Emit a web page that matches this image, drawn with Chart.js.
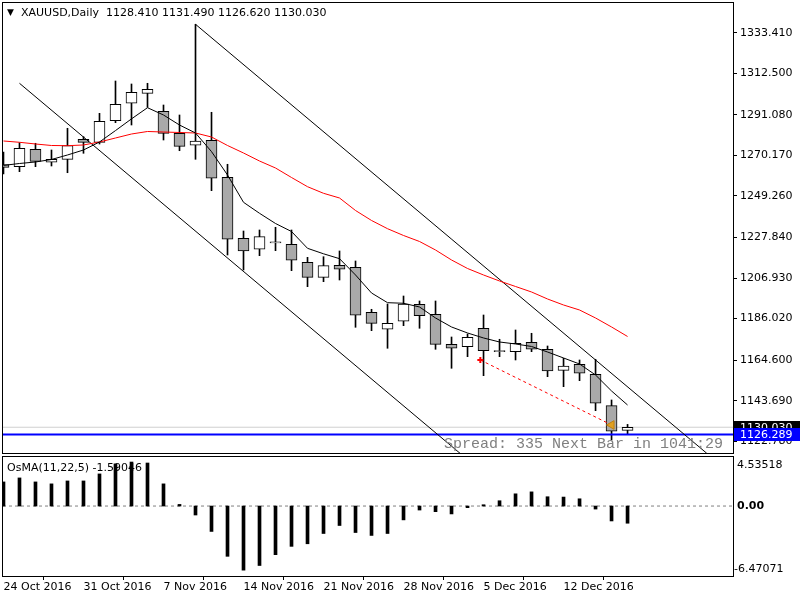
<!DOCTYPE html>
<html>
<head>
<meta charset="utf-8">
<title>XAUUSD Daily</title>
<script src="https://cdn.jsdelivr.net/npm/chart.js@4.4.1/dist/chart.umd.min.js"></script>
<style>
  html, body { margin: 0; padding: 0; background: #fff; }
  #wrap { position: relative; width: 800px; height: 600px; overflow: hidden; font-family: 'DejaVu Sans', sans-serif; }
  canvas { position: absolute; left: 0; }
  #priceChart { top: 0; }
  #oscChart { top: 454px; }
  .lbl { position: absolute; font-size: 11px; line-height: 13px; color: #000; white-space: pre; }
  #tri { left: 7px; top: 6px; font-size: 9px; }
  #title { left: 21px; top: 6px; }
  #oscTitle { left: 7px; top: 461px; }
  #spread { position: absolute; left: 444px; top: 436px; font: 15px 'Liberation Mono', monospace; line-height: 17px; color: #808080; white-space: pre; }
</style>
</head>
<body>
<div id="wrap">
  <canvas id="priceChart" width="800" height="454"></canvas>
  <canvas id="oscChart" width="800" height="146"></canvas>
  <div class="lbl" id="tri">▼</div>
  <div class="lbl" id="title">XAUUSD,Daily  1128.410 1131.490 1126.620 1130.030</div>
  <div class="lbl" id="oscTitle">OsMA(11,22,5) -1.59046</div>
  <div id="spread">Spread: 335 Next Bar in 1041:29</div>
</div>
<script>
// daily bars, 24 Oct 2016 .. 16 Dec 2016 (weekdays only)
const opens  = [1265.47, 1264.34, 1273.31, 1266.61, 1268.15, 1278.46, 1276.91, 1288.05, 1297.02, 1302.17,
                1292.90, 1281.55, 1275.37, 1277.95, 1258.87, 1227.43, 1221.76, 1225.60, 1224.33, 1215.06,
                1207.32, 1213.51, 1212.48, 1189.28, 1180.52, 1184.65, 1193.41, 1188.25, 1172.78, 1171.55,
                1181.04, 1169.60, 1168.97, 1173.82, 1170.21, 1159.38, 1162.48, 1157.33, 1141.15, 1128.41];
const highs  = [1271.92, 1276.71, 1276.40, 1272.95, 1284.13, 1279.80, 1291.86, 1308.51, 1306.97, 1307.33,
                1296.14, 1290.99, 1337.74, 1292.38, 1265.58, 1231.19, 1231.71, 1233.10, 1231.71, 1217.63,
                1217.94, 1220.89, 1215.73, 1190.83, 1193.56, 1197.68, 1195.11, 1195.11, 1176.55, 1178.10,
                1187.89, 1175.37, 1180.16, 1178.46, 1171.91, 1165.57, 1164.70, 1165.06, 1144.08, 1131.49];
const lows   = [1260.58, 1261.76, 1264.34, 1264.70, 1261.24, 1271.24, 1276.04, 1287.02, 1285.83, 1294.95,
                1278.10, 1272.58, 1268.15, 1251.97, 1218.82, 1211.09, 1218.46, 1221.04, 1210.73, 1202.48,
                1205.06, 1205.93, 1181.55, 1179.80, 1170.73, 1182.38, 1181.04, 1170.21, 1160.42, 1166.40,
                1156.60, 1166.40, 1164.70, 1168.97, 1156.09, 1150.93, 1154.02, 1138.57, 1123.46, 1126.62];
const closes = [1263.93, 1273.82, 1267.12, 1268.15, 1275.16, 1276.91, 1287.74, 1296.50, 1302.69, 1304.23,
                1281.55, 1274.85, 1277.58, 1258.36, 1226.92, 1220.89, 1228.25, 1225.00, 1216.09, 1207.32,
                1213.30, 1211.45, 1187.74, 1183.61, 1183.61, 1193.56, 1187.53, 1172.78, 1170.73, 1176.39,
                1169.49, 1169.00, 1173.30, 1170.21, 1159.02, 1161.60, 1157.84, 1142.38, 1127.95, 1130.03];

// moving averages (black fast, red slow)
const maFast = [1265.00, 1265.99, 1266.76, 1268.05, 1270.37, 1272.95, 1277.07, 1282.95, 1288.98, 1294.75,
                1290.99, 1285.83, 1281.71, 1272.12, 1260.06, 1245.99, 1240.32, 1235.06, 1230.93, 1222.27,
                1219.44, 1216.92, 1208.52, 1199.23, 1194.24, 1193.93, 1192.02, 1186.35, 1181.71, 1178.62,
                1176.04, 1173.97, 1172.95, 1171.66, 1168.82, 1165.73, 1162.63, 1156.96, 1148.72, 1141.50];
const maSlow = [1277.59, 1276.92, 1276.04, 1275.27, 1275.16, 1275.53, 1277.07, 1279.13, 1281.19, 1282.48,
                1282.22, 1281.97, 1281.71, 1279.64, 1275.27, 1271.40, 1267.27, 1263.67, 1258.77, 1254.03,
                1250.63, 1248.20, 1241.76, 1236.61, 1232.38, 1228.87, 1225.78, 1221.40, 1216.25, 1211.86,
                1208.51, 1205.42, 1202.58, 1199.75, 1196.14, 1193.05, 1190.47, 1186.35, 1181.71, 1176.81];

// OsMA(11,22,5) histogram
const osma = [2.23, 2.60, 2.23, 2.05, 2.32, 2.32, 2.97, 3.90, 4.07, 3.98,
              2.05, 0.15, -0.83, -2.35, -4.65, -5.93, -5.50, -4.50, -3.73, -3.49,
              -2.54, -1.80, -2.45, -2.72, -2.54, -1.28, -0.37, -0.52, -0.73, -0.15,
              0.12, 0.49, 1.13, 1.31, 0.86, 0.83, 0.67, -0.28, -1.38, -1.59046];

// trend channel and trade line endpoints: [bar index, price]
const chanLow  = [[1, 1307.33], [28.53, 1116.60]];
const chanHigh = [[12, 1337.74], [43.95, 1116.60]];
const tradeLine = [[29.8, 1164.70], [38.0, 1131.20]];

const priceTicks = [1333.410, 1312.500, 1291.080, 1270.170, 1249.260, 1227.840,
                    1206.930, 1186.020, 1164.600, 1143.690, 1122.780];
const dateTickBars = [0, 5, 10, 15, 20, 25, 30, 35];
const dateLabels = ['24 Oct 2016', '31 Oct 2016', '7 Nov 2016', '14 Nov 2016',
                    '21 Nov 2016', '28 Nov 2016', '5 Dec 2016', '12 Dec 2016'];

const bidPrice = 1130.03;
const linePrice = 1126.289;
const priceMin = 1116.75, priceMax = 1348.72;
const oscMin = -6.47071, oscMax = 4.53518;
const xMin = -0.03, xMax = 45.59;

Chart.defaults.font.family = "'DejaVu Sans', sans-serif";
Chart.defaults.font.size = 11;
Chart.defaults.color = '#000';
Chart.defaults.animation = false;
Chart.defaults.plugins.legend.display = false;
Chart.defaults.plugins.tooltip.enabled = false;

const bars = opens.map((_, i) => i);
const toXY = (arr) => arr.map((v, i) => ({ x: i, y: v }));
const toPts = (pairs) => pairs.map(([x, y]) => ({ x, y }));
const flat = (v) => [{ x: xMin, y: v }, { x: xMax, y: v }];

const wickData = bars.map((i) => ({ x: i, y: [lows[i], highs[i]] }));
const bodyData = bars.map((i) => ({ x: i, y: [Math.min(opens[i], closes[i]), Math.max(opens[i], closes[i])] }));
const bodyColors = bars.map((i) => (closes[i] >= opens[i] ? '#ffffff' : '#a9a9a9'));

// black frame round each panel, MT4 style
const panelFrame = {
  id: 'panelFrame',
  afterDraw(chart) {
    const { ctx, chartArea: a } = chart;
    ctx.save();
    ctx.strokeStyle = '#000';
    ctx.lineWidth = 1;
    ctx.strokeRect(a.left - 0.5, a.top - 0.5, a.right - a.left + 1, a.bottom - a.top + 1);
    ctx.restore();
  },
};

// bid / line price boxes on the right axis
const priceTags = {
  id: 'priceTags',
  afterDraw(chart) {
    const y = chart.scales.y;
    const ctx = chart.ctx;
    const tag = (value, bg) => {
      const py = Math.round(y.getPixelForValue(value));
      ctx.fillStyle = bg;
      ctx.fillRect(y.left + 1, py - 6, chart.width - y.left - 1, 13);
      ctx.fillStyle = '#fff';
      ctx.font = "11px 'DejaVu Sans'";
      ctx.textBaseline = 'middle';
      ctx.fillText(value.toFixed(3), y.left + 7, py + 1);
    };
    ctx.save();
    tag(bidPrice, '#000');
    tag(linePrice, '#0000ff');
    ctx.restore();
  },
};

// indicator window shows its max / zero / min on the right
const oscLabels = {
  id: 'oscLabels',
  afterDraw(chart) {
    const s = chart.scales.y;
    const ctx = chart.ctx;
    const x = chart.chartArea.right;
    ctx.save();
    ctx.fillStyle = '#000';
    ctx.textBaseline = 'middle';
    ctx.font = "11px 'DejaVu Sans'";
    ctx.fillText(oscMax.toFixed(5), x + 4, s.getPixelForValue(oscMax) + 8);
    ctx.fillText(oscMin.toFixed(5), x + 1, s.getPixelForValue(oscMin) - 7);
    ctx.font = "bold 11px 'DejaVu Sans'";
    ctx.fillText('0.00', x + 4, s.getPixelForValue(0));
    ctx.restore();
  },
};

new Chart(document.getElementById('priceChart'), {
  type: 'bar',
  data: {
    datasets: [
      { type: 'line', data: toXY(maFast), borderColor: '#000', borderWidth: 1, pointRadius: 0, order: 0 },
      { type: 'line', data: toXY(maSlow), borderColor: '#ff0000', borderWidth: 1, pointRadius: 0, order: 0 },
      { type: 'line', data: toPts(chanLow), borderColor: '#000', borderWidth: 1, pointRadius: 0, order: 0 },
      { type: 'line', data: toPts(chanHigh), borderColor: '#000', borderWidth: 1, pointRadius: 0, order: 0 },
      {
        type: 'line', data: toPts(tradeLine), borderColor: '#ff0000', borderWidth: 1, borderDash: [3, 3],
        pointStyle: ['cross', 'triangle'], pointRadius: [3, 5], pointRotation: [0, -90],
        pointBackgroundColor: ['#ff0000', '#e0a020'], pointBorderColor: ['#ff0000', '#c08010'],
        pointBorderWidth: [2, 1], order: 0,
      },
      { type: 'line', data: flat(linePrice), borderColor: '#0000ff', borderWidth: 2, pointRadius: 0, order: 0 },
      { type: 'line', data: flat(bidPrice), borderColor: '#d0d0d0', borderWidth: 1, pointRadius: 0, order: 3 },
      {
        data: bodyData, backgroundColor: bodyColors, borderColor: '#000', borderWidth: 1,
        borderSkipped: false, barThickness: 11, grouped: false, order: 1,
      },
      { data: wickData, backgroundColor: '#000', borderWidth: 0, barThickness: 1, grouped: false, order: 2 },
    ],
  },
  options: {
    responsive: false,
    layout: { autoPadding: false, padding: { left: 3, top: 3, right: 0, bottom: 1 } },
    scales: {
      x: { type: 'linear', min: xMin, max: xMax, offset: false, display: false },
      y: {
        position: 'right',
        min: priceMin,
        max: priceMax,
        afterBuildTicks: (s) => { s.ticks = priceTicks.map((v) => ({ value: v })); },
        afterFit: (s) => { s.width = 67; s.paddingTop = 0; s.paddingBottom = 0; },
        grid: { drawOnChartArea: false, tickLength: 4, color: '#000' },
        border: { color: '#000' },
        ticks: { padding: 3, autoSkip: false, callback: (v) => Number(v).toFixed(3) },
      },
    },
  },
  plugins: [panelFrame, priceTags],
});

new Chart(document.getElementById('oscChart'), {
  type: 'bar',
  data: {
    datasets: [
      { type: 'line', data: flat(0), borderColor: '#808080', borderWidth: 1, borderDash: [3, 3], pointRadius: 0, order: 1 },
      { data: toXY(osma), backgroundColor: '#000', borderWidth: 0, barThickness: 3, grouped: false, order: 0 },
    ],
  },
  options: {
    responsive: false,
    layout: { autoPadding: false, padding: { left: 3, top: 3, right: 67, bottom: 0 } },
    scales: {
      x: {
        type: 'linear',
        min: xMin,
        max: xMax,
        offset: false,
        afterBuildTicks: (s) => { s.ticks = dateTickBars.map((v) => ({ value: v })); },
        afterFit: (s) => { s.height = 24; s.paddingLeft = 0; s.paddingRight = 0; },
        grid: { drawOnChartArea: false, tickLength: 4, color: '#000' },
        border: { color: '#000' },
        ticks: { align: 'start', padding: 1, maxRotation: 0, autoSkip: false, callback: (v, i) => dateLabels[i] },
      },
      y: { display: false, min: oscMin, max: oscMax },
    },
  },
  plugins: [panelFrame, oscLabels],
});
</script>
</body>
</html>
